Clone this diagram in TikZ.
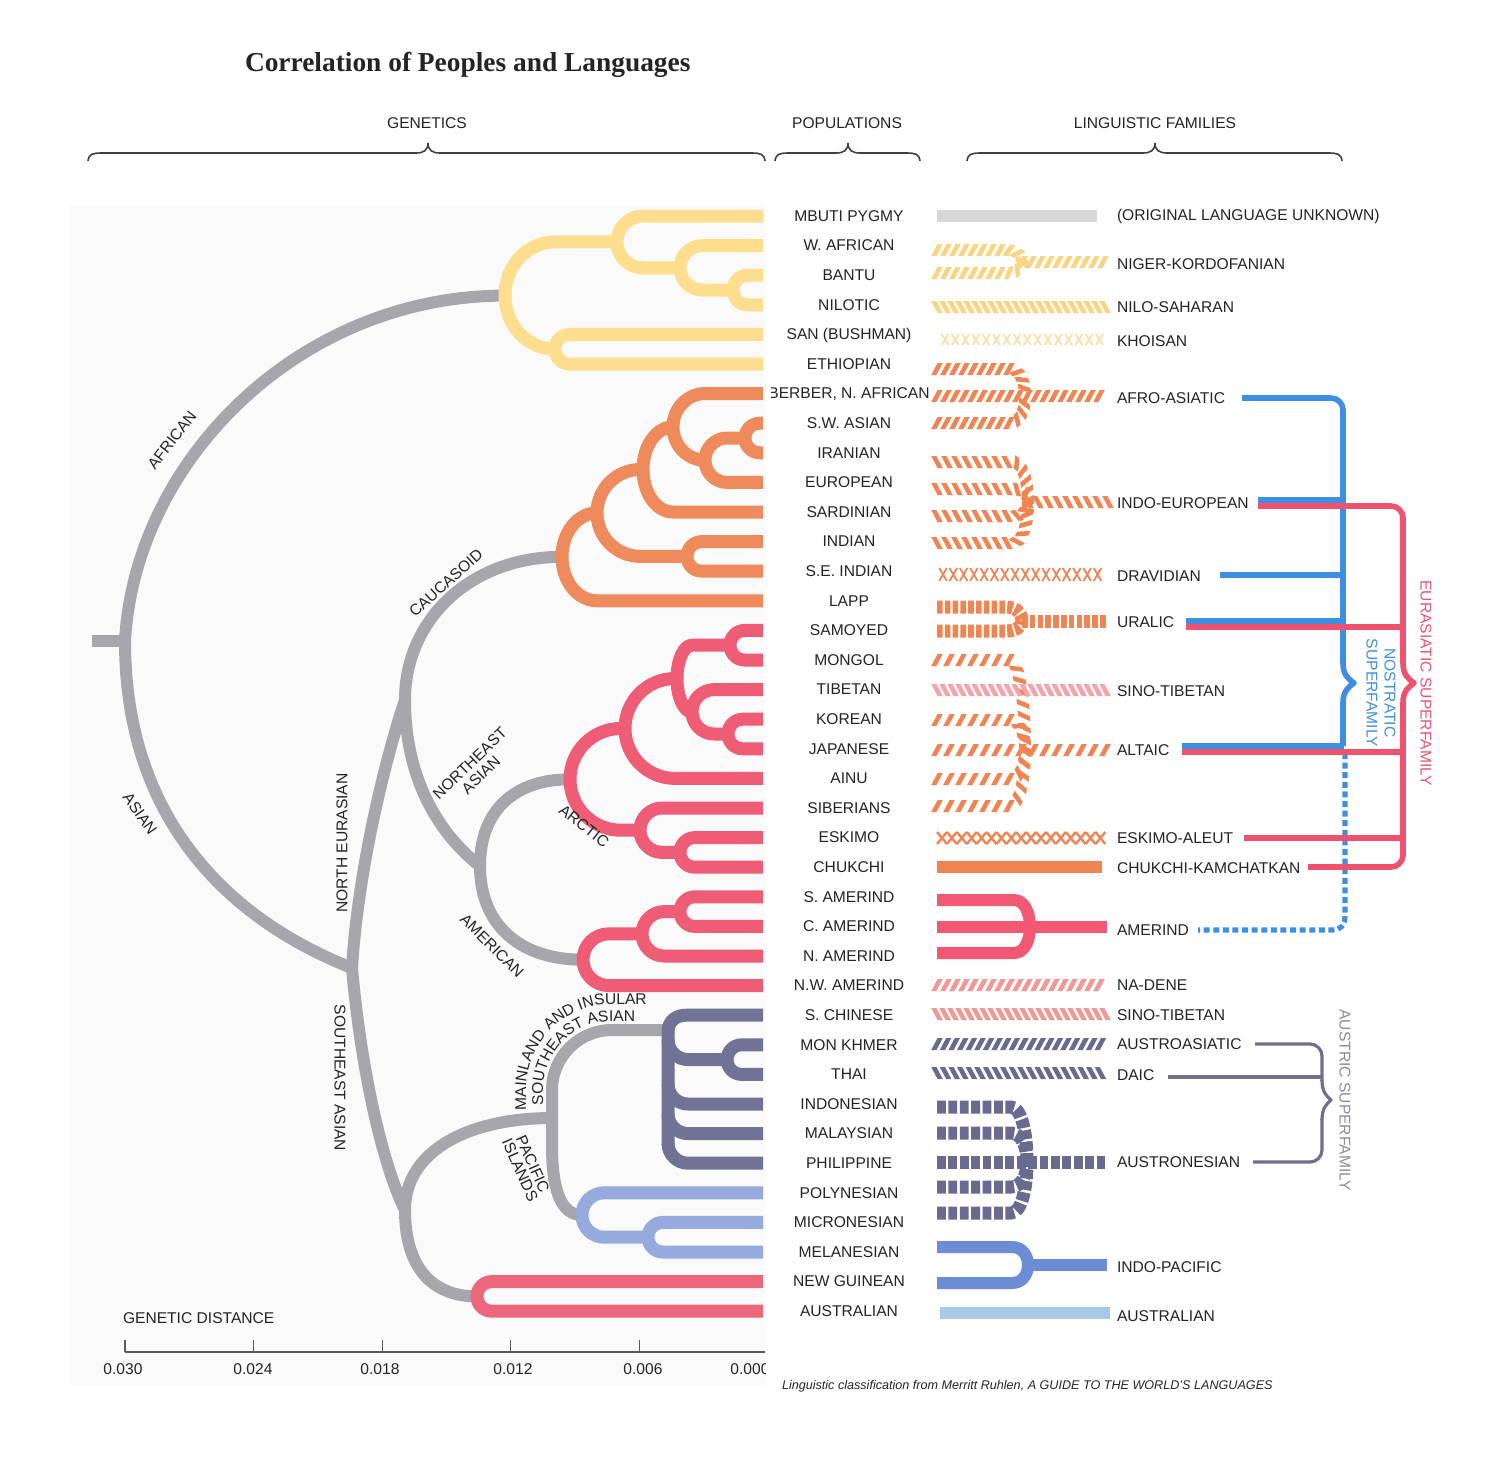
\documentclass[tikz,border=0pt]{standalone}
\usepackage{fontspec}
\setmainfont{Liberation Sans}
\newfontfamily\titlefont{Liberation Serif}
\usetikzlibrary{decorations.markings,decorations.text}
\definecolor{treeY}{RGB}{253,222,142}
\definecolor{treeO}{RGB}{239,138,92}
\definecolor{treeR}{RGB}{238,92,118}
\definecolor{treeG}{RGB}{167,166,173}
\definecolor{treeS}{RGB}{112,114,150}
\definecolor{treeB}{RGB}{150,170,222}
\definecolor{treeA}{RGB}{236,102,124}
\definecolor{langY}{RGB}{250,212,128}
\definecolor{langYl}{RGB}{250,224,170}
\definecolor{langO}{RGB}{240,132,82}
\definecolor{langP}{RGB}{244,165,172}
\definecolor{langR}{RGB}{242,88,114}
\definecolor{langN}{RGB}{242,152,150}
\definecolor{langS}{RGB}{104,106,144}
\definecolor{langB}{RGB}{108,140,214}
\definecolor{langLB}{RGB}{168,202,232}
\definecolor{langGr}{RGB}{215,215,215}
\definecolor{nostB}{RGB}{62,142,226}
\definecolor{eurR}{RGB}{238,82,110}
\definecolor{austG}{RGB}{112,112,140}
\definecolor{austT}{RGB}{140,140,152}
\definecolor{inkC}{RGB}{35,35,40}
\definecolor{panelC}{RGB}{250,250,250}
\tikzset{
  ytree/.style={draw=treeY,line width=6.5pt,line join=round},
  otree/.style={draw=treeO,line width=6.5pt,line join=round},
  rtree/.style={draw=treeR,line width=6.5pt,line join=round},
  gtree/.style={draw=treeG,line width=6pt,line join=round},
  stree/.style={draw=treeS,line width=6.5pt,line join=round},
  btree/.style={draw=treeB,line width=6.5pt,line join=round},
  atree/.style={draw=treeA,line width=6.5pt,line join=round},
  fwd/.style 2 args={decorate,decoration={markings,mark=between positions 0 and 1 step #2 with {\fill[#1] (-2.9pt,-3pt) -- (-0.3pt,-3pt) -- (2.9pt,3pt) -- (0.3pt,3pt) -- cycle;}}},
  bwd/.style 2 args={decorate,decoration={markings,mark=between positions 0 and 1 step #2 with {\fill[#1] (0.3pt,-3pt) -- (2.9pt,-3pt) -- (-0.3pt,3pt) -- (-2.9pt,3pt) -- cycle;}}},
  solidbar/.style={draw=#1,line width=6pt,line join=round},
  bluebr/.style={draw=nostB,line width=2.8pt,line join=round},
  redbr/.style={draw=eurR,line width=2.8pt,line join=round},
  austbr/.style={draw=austG,line width=1.6pt,line join=round},
  bracec/.style={draw=black!75,line width=0.8pt},
  lbl/.style={anchor=mid,text=inkC},
  lfam/.style={anchor=mid west,text=inkC},
  arctext/.style={decorate,decoration={text along path,text align=left,text color=inkC,text={|\fontsize{7.8}{9}\selectfont|#1}}},
}
\newcommand\treeC[6]{%
  \pgfmathsetmacro\cRy{(#3-#2)/2}%
  \pgfmathsetmacro\cYm{(#3+#2)/2}%
  \pgfmathsetmacro\cRx{min(\cRy,#4-#1,#5-#1)}%
  \pgfmathsetmacro\cXe{#1+\cRx}%
  \pgfmathsetmacro\cXc{#1+0.448*\cRx}%
  \pgfmathsetmacro\cYa{\cYm-0.552*\cRy}%
  \pgfmathsetmacro\cYb{\cYm+0.552*\cRy}%
  \draw[#6] (#4,#2) -- (\cXe,#2) .. controls (\cXc,#2) and (#1,\cYa) .. (#1,\cYm) .. controls (#1,\cYb) and (\cXc,#3) .. (\cXe,#3) -- (#5,#3);}
\newcommand\fbr[5]{%
  \pgfmathsetmacro\fA{#3-16}%
  \pgfmathsetmacro\fB{#3-6}%
  \pgfmathsetmacro\fC{#2+0.45*(#4-#2)}%
  \path[#1] (#5,#2) -- (\fA,#2) .. controls (\fB,#2) and (#3,\fC) .. (#3,#4);}
\newcommand\hbr[4]{%
  \draw[bracec] (#1,#4+8) .. controls (#1+1,#4+1) and (#1+4,#4) .. (#1+14,#4) -- (#3-12,#4) .. controls (#3-4,#4) and (#3,#4-3) .. (#3,#4-10) .. controls (#3,#4-3) and (#3+4,#4) .. (#3+12,#4) -- (#2-14,#4) .. controls (#2-4,#4) and (#2-1,#4+1) .. (#2,#4+8);}
\newcommand\combbr[2]{%
  \draw[stree] (668,#1-20) .. controls (668,#1-9) and (677,#1) .. (688,#1) -- (#2,#1);}
% vertical brace bump: x, y-centre, bulge, style
\newcommand\vbump[4]{%
  \draw[#4] (#1,#2-20) .. controls (#1,#2-8) and (#1+#3*0.5,#2-4) .. (#1+#3,#2) .. controls (#1+#3*0.5,#2+4) and (#1,#2+8) .. (#1,#2+20);}
\begin{document}
\begin{tikzpicture}[x=0.5pt,y=-0.5pt,every node/.style={inner sep=0pt,outer sep=0pt,font=\fontsize{7.8}{9}\selectfont}]
\useasboundingbox (0,0) rectangle (1500,1458);
\fill[white] (0,0) rectangle (1500,1458);
\fill[panelC] (70,205) rectangle (765,1385);
% ---------------- title and headers
\node[anchor=mid west,text=inkC,font=\titlefont\bfseries\fontsize{13.7}{16}\selectfont] (title) at (245,66) {Correlation of Peoples and Languages};
\node[lbl] (hgen) at (427,123) {GENETICS};
\node[lbl] (hpop) at (847,123) {POPULATIONS};
\node[lbl] (hling) at (1155,123) {LINGUISTIC FAMILIES};
\hbr{88}{765}{428}{153}
\hbr{775}{920}{848}{153}
\hbr{967}{1342}{1155}{153}
% ---------------- genetic tree
\begin{scope}
\clip (0,0) rectangle (765,1458);
% gray backbone
\draw[gtree] (92,641) -- (125,641);
\draw[gtree] (505,295.6) .. controls (300,295.6) and (135,460) .. (125,641) .. controls (125,820) and (230,920) .. (352,968);
\draw[gtree] (405,700) .. controls (385,760) and (358,870) .. (352,968) .. controls (362,1080) and (385,1170) .. (405,1210);
\draw[gtree] (562,556.8) .. controls (470,556.8) and (405,620) .. (405,700) .. controls (405,780) and (440,835) .. (480,866);
\draw[gtree] (570,779.3) .. controls (515,779.3) and (480,810) .. (480,866) .. controls (480,925) and (520,959.7) .. (583,959.7);
\draw[gtree] (552,1118) .. controls (470,1118) and (405,1150) .. (405,1210) .. controls (405,1265) and (430,1296.4) .. (477,1296.4);
\draw[gtree] (668,1030) -- (612,1030) .. controls (578.9,1030) and (552,1056.9) .. (552,1090) -- (552,1145) .. controls (552,1188) and (560,1215) .. (582,1215);
% African
\treeC{733}{275.2}{304.8}{763}{763}{ytree}
\treeC{680}{245.6}{290}{763}{733}{ytree}
\treeC{617}{216}{267.8}{763}{680}{ytree}
\treeC{555}{334.4}{364}{763}{763}{ytree}
\treeC{505}{241.9}{349.2}{617}{555}{ytree}
% Caucasoid
\treeC{745}{423.2}{452.8}{763}{763}{otree}
\treeC{705}{438}{482.4}{745}{763}{otree}
\treeC{673}{393.6}{460.2}{763}{705}{otree}
\treeC{643}{426.9}{512}{673}{763}{otree}
\treeC{687}{541.6}{571.2}{763}{763}{otree}
\treeC{597}{469.45}{556.4}{643}{687}{otree}
\treeC{562}{512.9}{600.8}{597}{763}{otree}
% Northeast Asian
\treeC{730}{630.4}{660}{763}{763}{rtree}
\treeC{728}{719.2}{748.8}{763}{763}{rtree}
\treeC{692}{689.6}{734}{763}{728}{rtree}
\treeC{677}{645.2}{711.8}{730}{692}{rtree}
\treeC{625}{678.5}{778.4}{677}{763}{rtree}
\treeC{680}{837.6}{867.2}{763}{763}{rtree}
\treeC{640}{808}{852.4}{763}{680}{rtree}
\treeC{570}{728.45}{830.2}{625}{640}{rtree}
% American
\treeC{680}{896.8}{926.4}{763}{763}{rtree}
\treeC{642}{911.6}{956}{680}{763}{rtree}
\treeC{583}{933.8}{985.6}{642}{763}{rtree}
% Mainland and insular Southeast Asian
\treeC{727}{1044.8}{1074.4}{763}{763}{stree}
\draw[stree] (763,1015.2) -- (686,1015.2) .. controls (676,1015.2) and (668,1021) .. (668,1032) -- (668,1145);
\combbr{1059.6}{727}
\combbr{1104}{763}
\combbr{1133.6}{763}
\combbr{1163.2}{763}
% Pacific
\treeC{648}{1222.4}{1252}{763}{763}{btree}
\treeC{582}{1192.8}{1237.2}{763}{648}{btree}
% Australian
\treeC{477}{1281.6}{1311.2}{763}{763}{atree}
% axis
\draw[black!65,line width=0.6pt] (125,1352) -- (770,1352);
\foreach \tx in {125,253.6,382.2,510.8,639.4,768}{\draw[black!65,line width=0.6pt] (\tx,1352) -- (\tx,1340);}
\node[lbl] (t0) at (123,1369) {0.030};
\node[lbl] (t1) at (253,1369) {0.024};
\node[lbl] (t2) at (380,1369) {0.018};
\node[lbl] (t3) at (513,1369) {0.012};
\node[lbl] (t4) at (643,1369) {0.006};
\node[lbl] (t5) at (750,1369) {0.000};
\end{scope}
\node[anchor=mid west,text=inkC] (gd) at (123,1318) {GENETIC DISTANCE};
% tree labels
\node[lbl,rotate=52] (lafr) at (172,440) {AFRICAN};
\node[lbl,rotate=-55] (lasi) at (140,814) {ASIAN};
\node[lbl,rotate=42] (lcau) at (446,583) {CAUCASOID};
\node[lbl,rotate=90] (lne) at (342,843) {NORTH EURASIAN};
\node[lbl,rotate=-90] (lsea) at (340,1078) {SOUTHEAST ASIAN};
\node[lbl,rotate=44,align=center] (lnea) at (481,775) {NORTHEAST\\[-1pt]ASIAN};
\node[lbl,rotate=-38] (larc) at (584,826) {ARCTIC};
\node[lbl,rotate=-45] (lame) at (492,946) {AMERICAN};
\path[arctext={MAINLAND AND INSULAR}] (526,1110) -- (526,1090) .. controls (526,1042.5) and (564.5,1004) .. (612,1004) -- (730,1004);
\path[arctext={SOUTHEAST ASIAN}] (543,1105) -- (543,1090) .. controls (543,1051.9) and (573.9,1021) .. (612,1021) -- (720,1021);
\node[lbl,rotate=-66,align=center] (lpac) at (520,1170) {PACIFIC\\[-2pt]ISLANDS};
% ---------------- populations
\begin{scope}
\clip (771,180) rectangle (940,1340);
\foreach \nm/\yy in {MBUTI PYGMY/216, W. AFRICAN/245.6, BANTU/275.2, NILOTIC/304.8, SAN (BUSHMAN)/334.4, ETHIOPIAN/364, {BERBER, N. AFRICAN}/393.6, S.W. ASIAN/423.2, IRANIAN/452.8, EUROPEAN/482.4, SARDINIAN/512, INDIAN/541.6, S.E. INDIAN/571.2, LAPP/600.8, SAMOYED/630.4, MONGOL/660, TIBETAN/689.6, KOREAN/719.2, JAPANESE/748.8, AINU/778.4, SIBERIANS/808, ESKIMO/837.6, CHUKCHI/867.2, S. AMERIND/896.8, C. AMERIND/926.4, N. AMERIND/956, N.W. AMERIND/985.6, S. CHINESE/1015.2, MON KHMER/1044.8, THAI/1074.4, INDONESIAN/1104, MALAYSIAN/1133.6, PHILIPPINE/1163.2, POLYNESIAN/1192.8, MICRONESIAN/1222.4, MELANESIAN/1252, NEW GUINEAN/1281.6, AUSTRALIAN/1311.2}
  {\node[lbl] (pop\yy) at (849,\yy) {\nm};}
\end{scope}
% ---------------- linguistic bars
\draw[solidbar=langGr] (937,216) -- (1097,216);
% Niger-Kordofanian
\fbr{fwd={langY}{4.5pt}}{250}{1022}{262}{937}
\fbr{fwd={langY}{4.5pt}}{273}{1022}{262}{937}
\path[fwd={langY}{4.5pt}] (1022,262) -- (1105,262);
% Nilo-Saharan
\path[bwd={langY}{4pt}] (937,307) -- (1107,307);
% Khoisan
\foreach \i in {0,...,15}{\pgfmathsetmacro\xx{945+\i*10.3}\draw[langYl,line width=0.9pt] (\xx-3.5,334) -- (\xx+3.5,345) (\xx-3.5,345) -- (\xx+3.5,334);}
% Afro-Asiatic
\fbr{fwd={langO}{4.5pt}}{369}{1025}{396}{937}
\fbr{fwd={langO}{4.5pt}}{423}{1025}{396}{937}
\path[fwd={langO}{4.5pt}] (937,396) -- (1105,396);
% Indo-European
\fbr{bwd={langO}{5pt}}{462}{1028}{502}{937}
\fbr{bwd={langO}{5pt}}{489}{1028}{502}{937}
\fbr{bwd={langO}{5pt}}{516}{1028}{502}{937}
\fbr{bwd={langO}{5pt}}{543}{1028}{502}{937}
\path[bwd={langO}{5pt}] (1028,502) -- (1110,502);
% Dravidian
\foreach \i in {0,...,15}{\pgfmathsetmacro\xx{943+\i*10.3}\draw[langO,line width=0.9pt] (\xx-3.8,568) -- (\xx+3.8,581) (\xx-3.8,581) -- (\xx+3.8,568);}
% Uralic
\fbr{draw=langO,line width=6.5pt,dash pattern=on 2.8pt off 1.1pt}{607}{1022}{621}{937}
\fbr{draw=langO,line width=6.5pt,dash pattern=on 2.8pt off 1.1pt}{631}{1022}{621}{937}
\draw[langO,line width=6.5pt,dash pattern=on 2.8pt off 1.1pt] (1022,621) -- (1107,621);
% Altaic
\fbr{fwd={langO}{6pt}}{660}{1025}{750}{937}
\fbr{fwd={langO}{6pt}}{720}{1025}{750}{937}
\fbr{fwd={langO}{6pt}}{779}{1025}{750}{937}
\fbr{fwd={langO}{6pt}}{806}{1025}{750}{937}
\path[fwd={langO}{6pt}] (937,750) -- (1110,750);
% Sino-Tibetan (upper)
\path[bwd={langP}{4pt}] (937,690) -- (1107,690);
% Eskimo-Aleut
\foreach \i in {0,...,16}{\pgfmathsetmacro\xx{942+\i*9.9}\draw[langO,line width=1.2pt] (\xx-4.9,832) -- (\xx+4.9,844) (\xx-4.9,844) -- (\xx+4.9,832);}
% Chukchi-Kamchatkan
\draw[solidbar=langO] (937,867) -- (1102,867);
% Amerind
\fbr{solidbar=langR}{900}{1030}{927}{937}
\fbr{solidbar=langR}{953}{1030}{927}{937}
\draw[solidbar=langR] (937,927) -- (1107,927);
% Na-Dene, Sino-Tibetan (lower), Austroasiatic, Daic
\path[fwd={langN}{4.5pt}] (937,985) -- (1107,985);
\path[bwd={langN}{4pt}] (937,1014) -- (1107,1014);
\path[fwd={langS}{4.3pt}] (937,1044) -- (1107,1044);
\path[bwd={langS}{4.3pt}] (937,1073) -- (1107,1073);
% Austronesian
\fbr{draw=langS,line width=6.5pt,dash pattern=on 4.4pt off 1.3pt}{1107}{1027}{1162}{937}
\fbr{draw=langS,line width=6.5pt,dash pattern=on 4.4pt off 1.3pt}{1133}{1027}{1162}{937}
\fbr{draw=langS,line width=6.5pt,dash pattern=on 4.4pt off 1.3pt}{1187}{1027}{1162}{937}
\fbr{draw=langS,line width=6.5pt,dash pattern=on 4.4pt off 1.3pt}{1213}{1027}{1162}{937}
\draw[langS,line width=6.5pt,dash pattern=on 4.4pt off 1.3pt] (937,1162) -- (1105,1162);
% Indo-Pacific
\fbr{solidbar=langB}{1247}{1028}{1265}{937}
\fbr{solidbar=langB}{1283}{1028}{1265}{937}
\draw[solidbar=langB] (1028,1265) -- (1107,1265);
% Australian
\draw[solidbar=langLB] (940,1313) -- (1110,1313);
% ---------------- family labels
\node[lfam] (f1) at (1117,215) {(ORIGINAL LANGUAGE UNKNOWN)};
\node[lfam] (f2) at (1117,264) {NIGER-KORDOFANIAN};
\node[lfam] (f3) at (1117,307) {NILO-SAHARAN};
\node[lfam] (f4) at (1117,341) {KHOISAN};
\node[lfam] (f5) at (1117,398) {AFRO-ASIATIC};
\node[lfam] (f6) at (1117,503) {INDO-EUROPEAN};
\node[lfam] (f7) at (1117,576) {DRAVIDIAN};
\node[lfam] (f8) at (1117,622) {URALIC};
\node[lfam] (f9) at (1117,691) {SINO-TIBETAN};
\node[lfam] (f10) at (1117,750) {ALTAIC};
\node[lfam] (f11) at (1117,838) {ESKIMO-ALEUT};
\node[lfam] (f12) at (1117,868) {CHUKCHI-KAMCHATKAN};
\node[lfam] (f13) at (1117,930) {AMERIND};
\node[lfam] (f14) at (1117,985) {NA-DENE};
\node[lfam] (f15) at (1117,1015) {SINO-TIBETAN};
\node[lfam] (f16) at (1117,1044) {AUSTROASIATIC};
\node[lfam] (f17) at (1117,1075) {DAIC};
\node[lfam] (f18) at (1117,1162) {AUSTRONESIAN};
\node[lfam] (f19) at (1117,1267) {INDO-PACIFIC};
\node[lfam] (f20) at (1117,1316) {AUSTRALIAN};
% ---------------- superfamily brackets
\draw[bluebr,rounded corners=6pt] (1242,398) -- (1343,398) -- (1343,664);
\vbump{1343}{683}{11}{bluebr}
\draw[bluebr] (1343,702) -- (1343,746);
\draw[bluebr] (1258,500) -- (1343,500);
\draw[bluebr] (1220,575) -- (1343,575);
\draw[bluebr] (1186,621) -- (1343,621);
\draw[bluebr] (1182,746) -- (1344.4,746);
\draw[nostB,line width=2.6pt,dash pattern=on 3pt off 1.8pt] (1345,753) -- (1345,916) .. controls (1345,925) and (1341,930) .. (1332,930) -- (1198,930);
\draw[redbr,rounded corners=6pt] (1258,506) -- (1403,506) -- (1403,664);
\vbump{1403}{683}{11}{redbr}
\draw[redbr,rounded corners=6pt] (1403,702) -- (1403,867) -- (1308,867);
\draw[redbr] (1186,627) -- (1403,627);
\draw[redbr] (1182,752) -- (1401,752);
\draw[redbr] (1244,838) -- (1403,838);
\draw[austbr,rounded corners=6pt] (1255,1044) -- (1322,1044) -- (1322,1081);
\vbump{1322}{1100}{9}{austbr}
\draw[austbr,rounded corners=6pt] (1322,1119) -- (1322,1162) -- (1253,1162);
\draw[austbr] (1168,1077) -- (1322,1077);
\node[anchor=mid,rotate=-90,align=center,text=nostB] (nost) at (1372,693) {NOSTRATIC\\SUPERFAMILY};
\node[anchor=mid,rotate=-90,text=eurR] (eura) at (1426,683) {EURASIATIC SUPERFAMILY};
\node[anchor=mid,rotate=-90,text=austT] (aust) at (1345,1100) {AUSTRIC SUPERFAMILY};
% ---------------- footnote
\node[anchor=mid west,text=inkC,font=\itshape\fontsize{6.3}{7}\selectfont] (foot) at (782,1384) {Linguistic classification from Merritt Ruhlen, A GUIDE TO THE WORLD'S LANGUAGES};
\end{tikzpicture}
\end{document}
